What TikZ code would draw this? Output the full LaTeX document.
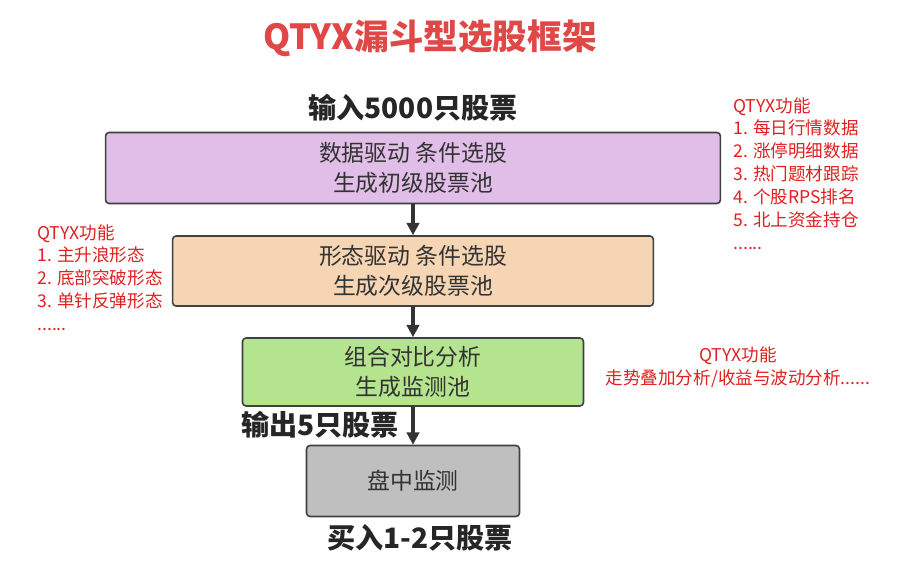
\documentclass[tikz,border=0pt]{standalone}
\usepackage{fontspec}
\setmainfont{Noto Sans CJK SC}
\usetikzlibrary{arrows.meta,positioning}
\definecolor{stagePurple}{HTML}{E0BEE8}
\definecolor{stagePeach}{HTML}{F5D5B3}
\definecolor{stageGreen}{HTML}{B5E48F}
\definecolor{stageGray}{HTML}{BFBFBF}
\definecolor{noteRed}{HTML}{E02020}
\definecolor{titleRed}{HTML}{E04848}
\begin{document}
\begin{tikzpicture}[x=0.02cm, y=-0.02cm,
    stagebox/.style = {draw=black!75, line width=0.9pt, rounded corners=2pt, align=center,
                       font=\fontsize{13}{17}\selectfont, text=black!80, inner sep=0pt},
    flow/.style     = {-{Triangle[length=7pt,width=7pt]}, line width=2.2pt, draw=black!80},
    note/.style     = {text=noteRed, font=\fontsize{10}{13}\selectfont, align=left, anchor=north west, inner sep=0pt},
    count/.style    = {font=\bfseries\fontsize{16}{18}\selectfont, text=black!85}
]
    \useasboundingbox (0,0) rectangle (921,578);

    \node[text=titleRed, font=\bfseries\fontsize{19.7}{22}\selectfont] (title) at (430,38) {QTYX漏斗型选股框架};

    \node[stagebox, fill=stagePurple, minimum width=12.3cm, minimum height=1.42cm] (pool1) at (413,168) {数据驱动 条件选股\\生成初级股票池};
    \node[stagebox, fill=stagePeach,  minimum width=9.62cm, minimum height=1.4cm]  (pool2) at (413,271) {形态驱动 条件选股\\生成次级股票池};
    \node[stagebox, fill=stageGreen,  minimum width=6.82cm, minimum height=1.36cm] (pool3) at (413,372) {组合对比分析\\生成监测池};
    \node[stagebox, fill=stageGray,   minimum width=4.26cm, minimum height=1.42cm] (watch) at (413,481) {盘中监测};

    \draw[flow] (pool1) -- (pool2);
    \draw[flow] (pool2) -- (pool3);
    \draw[flow] (pool3) -- (watch);

    \node[count] (input)  at (413,108) {输入5000只股票};
    \node[count] (output) at (320,425) {输出5只股票};
    \node[count] (buy)    at (420,538) {买入1-2只股票};

    % function notes
    \node[note] (noteData) at (733,97) {QTYX功能\\1. 每日行情数据\\2. 涨停明细数据\\3. 热门题材跟踪\\4. 个股RPS排名\\5. 北上资金持仓\\......};
    \node[note] (noteForm) at (37,224) {QTYX功能\\1. 主升浪形态\\2. 底部突破形态\\3. 单针反弹形态\\......};
    \node[note, anchor=center, align=center] (noteMix) at (738,367) {QTYX功能\\走势叠加分析/收益与波动分析......};
\end{tikzpicture}
\end{document}
